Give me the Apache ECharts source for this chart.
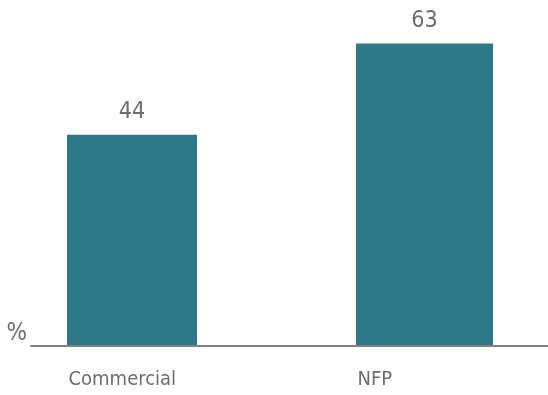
<!DOCTYPE html>
<html>
<head>
<meta charset="utf-8">
<script src="https://cdn.jsdelivr.net/npm/echarts@6/dist/echarts.min.js"></script>
<style>
  html, body { margin: 0; padding: 0; background: #ffffff; }
  #chart { width: 548px; height: 395px; }
</style>
</head>
<body>
<div id="chart"></div>
<script>
// Share of respondents (%) by sector
const categories = ['Commercial', 'NFP'];
const values = [44, 63];
const barWidths = [130, 137];

const FONT = "'DejaVu Sans Condensed', 'DejaVu Sans', sans-serif";
const TEXT = '#6d6d6d';
const BAR = '#2e7987';

// one series per category so each bar can carry its own width
const series = categories.map((name, i) => ({
  type: 'bar',
  xAxisIndex: 0,
  yAxisIndex: 0,
  barWidth: barWidths[i],
  barGap: '-100%',
  data: values.map((v, j) => (j === i ? v : '-')),
  itemStyle: { color: BAR },
  label: {
    show: true,
    position: 'top',
    distance: 11,
    color: TEXT,
    fontFamily: FONT,
    fontSize: 23
  },
  silent: true
}));

const chart = echarts.init(document.getElementById('chart'), null, { renderer: 'canvas' });
chart.setOption({
  animation: false,
  backgroundColor: '#ffffff',
  grid: [
    { left: -9, right: -21, top: 10, bottom: 49, outerBoundsMode: 'none' },
    { left: 31, right: 0, top: 10, bottom: 49, outerBoundsMode: 'none' }
  ],
  xAxis: [
    {
      type: 'category',
      gridIndex: 0,
      data: categories,
      axisLine: { show: false },
      axisTick: { show: false },
      axisLabel: {
        interval: 0,
        margin: 24,
        align: 'center',
        formatter: (v) => '{t|' + v + '}',
        rich: {
          t: { width: 134, align: 'left', color: TEXT, fontFamily: FONT, fontSize: 20 }
        }
      }
    },
    {
      type: 'category',
      gridIndex: 1,
      data: categories,
      z: 10,
      axisLine: { show: true, lineStyle: { color: '#808080', width: 2 } },
      axisTick: { show: false },
      axisLabel: { show: false }
    }
  ],
  yAxis: [
    {
      type: 'value',
      gridIndex: 0,
      min: 0,
      max: 70,
      show: false
    },
    {
      type: 'value',
      gridIndex: 1,
      min: 0,
      max: 70,
      interval: 70,
      axisLine: { show: false },
      axisTick: { show: false },
      splitLine: { show: false },
      axisLabel: {
        margin: 4,
        verticalAlign: 'bottom',
        color: TEXT,
        fontFamily: FONT,
        fontSize: 24,
        formatter: (v) => (v === 0 ? '%' : '')
      }
    }
  ],
  series: series
});
</script>
</body>
</html>
